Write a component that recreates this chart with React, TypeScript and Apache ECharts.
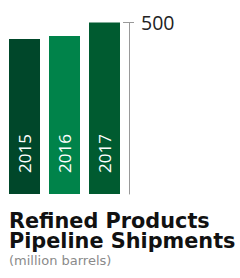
import React, { useEffect, useRef } from "react";
import * as echarts from "echarts";

const categories = ["2015", "2016", "2017"];
const shipments = [452, 461, 500];
const barColors = ["#00472A", "#00834A", "#005B30"];
const axisTicks = [500];
const titleLines = ["Refined Products", "Pipeline Shipments"];
const unitText = "(million barrels)";

export default function App() {
  const ref = useRef<HTMLDivElement>(null);
  useEffect(() => {
    document.body.style.margin = "0";
    const chart = echarts.init(ref.current!, null, { renderer: "svg" });
    const titleFont = "'DejaVu Sans', sans-serif";
    const numFont = "'Open Sans', sans-serif";
    chart.setOption({
      animation: false,
      title: {
        text: titleLines.join("\n"),
        subtext: unitText,
        left: 9,
        top: 210.5,
        padding: 0,
        itemGap: 1,
        textStyle: { fontFamily: titleFont, fontSize: 20.8, fontWeight: "bold", color: "#111", lineHeight: 20.5 },
        subtextStyle: { fontFamily: titleFont, fontSize: 13, color: "#8a8a8a", lineHeight: 14 },
      },
      grid: { left: 4.5, top: 22.5, width: 120, bottom: 84 },
      xAxis: {
        type: "category",
        data: categories,
        show: false,
      },
      yAxis: [
        {
          type: "value",
          position: "right",
          offset: 4.5,
          min: 0,
          max: 500,
          interval: 500,
          splitLine: { show: false },
          axisLine: { show: true, lineStyle: { color: "#999", width: 1 } },
          axisTick: { show: true, length: 5, customValues: axisTicks, lineStyle: { color: "#999" } },
          axisLabel: {
            show: true,
            customValues: axisTicks,
            margin: 12,
            fontFamily: numFont,
            fontSize: 19.5,
            color: "#222",
          },
        },
        {
          type: "value",
          position: "right",
          offset: 4.5,
          min: 0,
          max: 500,
          interval: 500,
          splitLine: { show: false },
          axisLine: { show: false },
          axisTick: { show: true, inside: true, length: 6, customValues: axisTicks, lineStyle: { color: "#999" } },
          axisLabel: { show: false },
        },
      ],
      series: [
        {
          type: "bar",
          data: shipments.map((v, i) => ({ value: v, itemStyle: { color: barColors[i] } })),
          barCategoryGap: "22.5%",
          label: {
            show: true,
            position: "insideBottom",
            rotate: 90,
            align: "left",
            verticalAlign: "middle",
            distance: 21,
            formatter: (p: any) => categories[p.dataIndex],
            fontFamily: numFont,
            fontSize: 17,
            color: "#fff",
          },
        },
      ],
    });
    return () => chart.dispose();
  }, []);
  return <div ref={ref} style={{ width: 240, height: 278 }} />;
}
